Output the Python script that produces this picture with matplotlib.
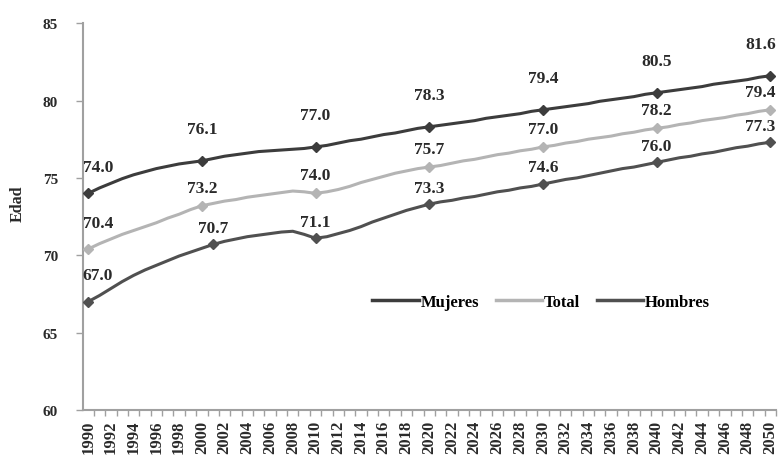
import numpy as np
import matplotlib.pyplot as plt
from matplotlib.ticker import FixedLocator

years = list(range(1990, 2051))

mujeres = [74.0, 74.35, 74.65, 74.95, 75.2, 75.4, 75.6, 75.75, 75.9, 76.0,
           76.1, 76.25, 76.4, 76.5, 76.6, 76.7, 76.75, 76.8, 76.85, 76.9,
           77.0, 77.1, 77.25, 77.4, 77.5, 77.65, 77.8, 77.9, 78.05, 78.2,
           78.3, 78.4, 78.5, 78.6, 78.7, 78.85, 78.95, 79.05, 79.15, 79.3,
           79.4, 79.5, 79.6, 79.7, 79.8, 79.95, 80.05, 80.15, 80.25, 80.4,
           80.5, 80.6, 80.7, 80.8, 80.9, 81.05, 81.15, 81.25, 81.35, 81.5,
           81.6]
total = [70.4, 70.75, 71.05, 71.35, 71.6, 71.85, 72.1, 72.4, 72.65, 72.95,
         73.2, 73.35, 73.5, 73.6, 73.75, 73.85, 73.95, 74.05, 74.15, 74.1,
         74.0, 74.1, 74.25, 74.45, 74.7, 74.9, 75.1, 75.3, 75.45, 75.6,
         75.7, 75.8, 75.95, 76.1, 76.2, 76.35, 76.5, 76.6, 76.75, 76.85,
         77.0, 77.1, 77.25, 77.35, 77.5, 77.6, 77.7, 77.85, 77.95, 78.1,
         78.2, 78.3, 78.45, 78.55, 78.7, 78.8, 78.9, 79.05, 79.15, 79.3,
         79.4]
hombres = [67.0, 67.4, 67.85, 68.3, 68.7, 69.05, 69.35, 69.65, 69.95, 70.2,
           70.45, 70.7, 70.9, 71.05, 71.2, 71.3, 71.4, 71.5, 71.55, 71.35,
           71.1, 71.2, 71.4, 71.6, 71.85, 72.15, 72.4, 72.65, 72.9, 73.1,
           73.3, 73.45, 73.55, 73.7, 73.8, 73.95, 74.1, 74.2, 74.35, 74.45,
           74.6, 74.75, 74.9, 75.0, 75.15, 75.3, 75.45, 75.6, 75.7, 75.85,
           76.0, 76.15, 76.3, 76.4, 76.55, 76.65, 76.8, 76.95, 77.05, 77.2,
           77.3]

marks_m = [1990, 2000, 2010, 2020, 2030, 2040, 2050]
marks_t = [1990, 2000, 2010, 2020, 2030, 2040, 2050]
marks_h = [1990, 2001, 2010, 2020, 2030, 2040, 2050]

names = ['Mujeres', 'Total', 'Hombres']

serif = 'Liberation Serif'
fig = plt.figure(figsize=(7.81, 4.64), dpi=100)
ax = fig.add_axes([0.1063, 0.1142, 0.8873, 0.8338])

series = [
    (mujeres, marks_m, '#3c3c3c', 23),
    (total, marks_t, '#b4b4b4', 13),
    (hombres, marks_h, '#505050', 12),
]

for (vals, marks, col, off), name in zip(series, names):
    idx = [years.index(y) for y in marks]
    ax.plot(years, vals, color=col, lw=2.2, marker='D', markersize=5,
            markevery=idx, label=name, clip_on=False, zorder=3)
    for k, i in enumerate(idx):
        if k == 0:
            ha, dx, dy = 'left', -4, 19
        elif k == len(idx) - 1:
            ha, dx, dy = 'right', 4, off
        else:
            ha, dx, dy = 'center', 0, off
        ax.annotate(f'{vals[i]:.1f}', (years[i], vals[i]), xytext=(dx, dy),
                    textcoords='offset points', ha=ha, va='center',
                    fontsize=12.5, fontweight='bold', family=serif,
                    color='#2a2a2a')

ax.set_xlim(1989.55, 2050.5)
ax.set_ylim(60, 85)
ax.set_yticks([60, 65, 70, 75, 80, 85])
ax.set_xticks(years[::2])
ax.xaxis.set_minor_locator(FixedLocator([y - 0.5 for y in years] + [2050.5]))
ax.tick_params(axis='x', which='major', length=0, pad=7, rotation=90)
ax.tick_params(axis='x', which='minor', length=4, width=1, color='#a0a0a0')
ax.tick_params(axis='y', length=5, width=1, color='#a0a0a0', pad=13)

for lab in ax.get_xticklabels():
    lab.set_fontfamily(serif)
    lab.set_fontweight('bold')
    lab.set_fontsize(12)
    lab.set_color('#2a2a2a')
for lab in ax.get_yticklabels():
    lab.set_fontfamily(serif)
    lab.set_fontweight('bold')
    lab.set_fontsize(11)
    lab.set_color('#2a2a2a')

for s in ['top', 'right']:
    ax.spines[s].set_visible(False)
for s in ['left', 'bottom']:
    ax.spines[s].set_color('#a0a0a0')
    ax.spines[s].set_linewidth(1.5)

fig.text(0.023, 0.56, 'Edad', rotation=90, ha='center', va='center',
         fontsize=11.5, fontweight='bold', family=serif, color='#2a2a2a')

leg = ax.legend(loc='center left', bbox_to_anchor=(0.405, 0.28), ncol=3,
                frameon=False, handlelength=2.8, handletextpad=0.1,
                columnspacing=1.0, borderpad=0,
                prop={'family': serif, 'weight': 'bold', 'size': 12})
for h in leg.legend_handles:
    h.set_marker('')
    h.set_linewidth(2.5)

fig.savefig('out.png', dpi=100)
